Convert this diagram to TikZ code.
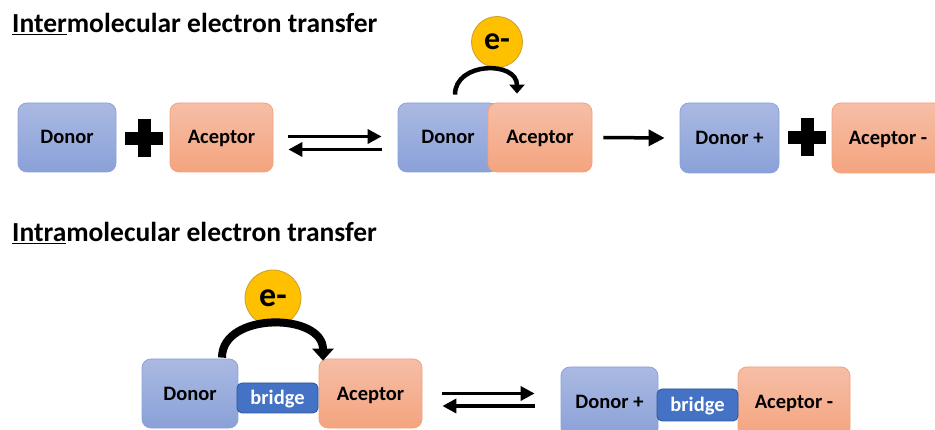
\documentclass[tikz,border=0pt]{standalone}
\usepackage{fontspec}
\setmainfont{Carlito}
\usetikzlibrary{arrows.meta}
\definecolor{dtop}{HTML}{AAB9E2}
\definecolor{dbot}{HTML}{8AA1D8}
\definecolor{dline}{HTML}{8CA3D9}
\definecolor{atop}{HTML}{F6BEA6}
\definecolor{abot}{HTML}{F4A47F}
\definecolor{aline}{HTML}{F3A27C}
\definecolor{bfill}{HTML}{4472C4}
\definecolor{bline}{HTML}{2F5597}
\definecolor{efill}{HTML}{FFC000}
\definecolor{eline}{HTML}{C8A030}
\newcommand\plusmark[1]{%
  \fill ([xshift=-19pt,yshift=-6.5pt]#1) rectangle ([xshift=19pt,yshift=6.5pt]#1);
  \fill ([xshift=-6.5pt,yshift=-19pt]#1) rectangle ([xshift=6.5pt,yshift=19pt]#1);}
\begin{document}
\begin{tikzpicture}[x=1pt,y=-1pt,
  box/.style={rounded corners=9pt, minimum height=69pt, inner sep=0pt,
    text height=13pt, text depth=-1pt,
    line width=0.8pt, font=\fontsize{20.5}{24}\selectfont\bfseries, text=black},
  donor/.style={box, draw=dline, top color=dtop, bottom color=dbot},
  acc/.style={box, draw=aline, top color=atop, bottom color=abot},
  bridgebox/.style={rounded corners=5pt, minimum height=30pt, inner sep=0pt,
    text height=13pt, text depth=0pt,
    line width=0.8pt, draw=bline, fill=bfill, text=white,
    font=\fontsize{20.5}{24}\selectfont\bfseries},
  electron/.style={circle, draw=eline, fill=efill, line width=0.8pt, inner sep=0pt,
    text=black},
  title/.style={anchor=base west, inner sep=0pt, font=\fontsize{27.5}{30}\selectfont\bfseries},
  eqarrow/.style={line width=3.5pt, -{Triangle[length=14pt,width=14pt]}},
  hop/.style={line width=4.5pt, -{Triangle[length=9pt,width=15pt]}},
  bighop/.style={line width=8pt, -{Triangle[length=12pt,width=21pt]}}
]
\useasboundingbox (0,0) rectangle (935,430);
\fill[white] (0,0) rectangle (935,430);

% titles
\node[title] (t1) at (12,33) {\underline{Inter}molecular electron transfer};
\node[title] (t2) at (12,242) {\underline{Intra}molecular electron transfer};

% row 1
\node[donor, minimum width=98pt] (d1) at (67,137.5) {Donor};
\coordinate (plus1) at (144,138.5);
\plusmark{plus1}
\node[acc, minimum width=103pt] (a1) at (221.5,137.5) {Aceptor};

\node[donor, minimum width=100pt] (d2) at (448,137.5) {Donor};
\node[acc, minimum width=104pt] (a2) at (540,137.5) {Aceptor};

\draw[eqarrow] ([xshift=15pt,yshift=1pt]a1.east) -- ([xshift=-16pt,yshift=1pt]d2.west);
\draw[eqarrow] ([xshift=-16pt,yshift=-12pt]d2.west) -- ([xshift=15pt,yshift=-12pt]a1.east);

\node[electron, minimum size=51pt, font=\fontsize{32}{36}\selectfont\bfseries] (e1) at (497,42) {e-};
\draw[hop] ([xshift=7pt,yshift=8pt]d2.north) .. controls +(0,-33) and +(0,-33) .. ([xshift=-23pt,yshift=9pt]a2.north);

\node[donor, minimum width=99pt, minimum height=70pt] (d3) at (729.5,138) {Donor +};
\draw[line width=3.5pt, -{Triangle[length=16pt,width=16pt]}] ([xshift=11pt]a2.east) -- ([xshift=-15pt]d3.west);
\coordinate (plus2) at (807,137.5);
\plusmark{plus2}
\node[acc, minimum width=112pt, minimum height=70pt] (a3) at (888,138) {Aceptor -};

% row 2
\node[donor, minimum width=96pt] (d4) at (190,393.5) {Donor};
\node[acc, minimum width=103pt] (a4) at (370.5,393.5) {Aceptor};
\node[bridgebox, minimum width=81pt] (b1) at (277.5,398) {bridge};
\node[electron, minimum size=56pt, font=\fontsize{34}{38}\selectfont\bfseries] (e2) at (273,298) {e-};
\draw[bighop] ([xshift=32pt,yshift=1pt]d4.north) .. controls +(0,-46) and +(0,-48) .. ([xshift=-47.5pt,yshift=-2pt]a4.north);

\node[donor, minimum width=97pt, minimum height=70pt] (d5) at (609.5,402) {Donor +};
\node[acc, minimum width=112pt, minimum height=70pt] (a5) at (794,402) {Aceptor -};
\node[bridgebox, minimum width=81pt, minimum height=32pt] (b2) at (697.5,405) {bridge};

\draw[eqarrow] ([xshift=20pt]a4.east) -- ([xshift=-26pt]a4.east -| d5.west);
\draw[eqarrow] ([xshift=-26pt,yshift=-12.5pt]a4.east -| d5.west) -- ([xshift=20pt,yshift=-12.5pt]a4.east);
\end{tikzpicture}
\end{document}
